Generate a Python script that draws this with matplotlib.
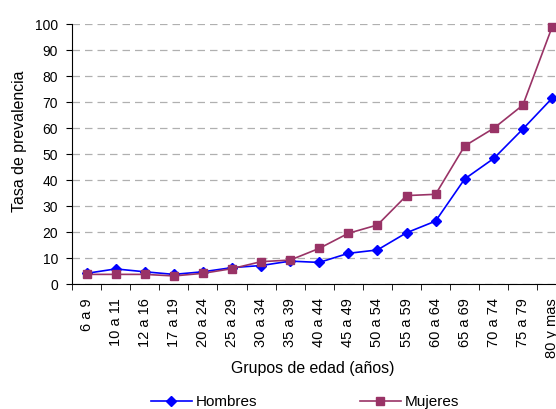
import matplotlib.pyplot as plt
import numpy as np

plt.rcParams['font.family'] = ['Liberation Sans', 'DejaVu Sans']
plt.rcParams['font.size'] = 10

grupos = ['6 a 9', '10 a 11', '12 a 16', '17 a 19', '20 a 24', '25 a 29',
          '30 a 34', '35 a 39', '40 a 44', '45 a 49', '50 a 54', '55 a 59',
          '60 a 64', '65 a 69', '70 a 74', '75 a 79', '80 y mas']
hombres = [4.1, 5.8, 4.7, 3.7, 4.7, 6.3, 7.1, 8.8, 8.3, 11.8, 13.1, 19.7,
           24.2, 40.4, 48.3, 59.6, 71.4]
mujeres = [3.7, 3.7, 3.7, 3.1, 4.1, 5.9, 8.6, 9.2, 13.7, 19.5, 22.7, 34.0,
           34.5, 53.1, 59.9, 68.8, 98.7]

fig = plt.figure(figsize=(5.56, 4.09), dpi=100)
# axes runs a little past the right edge, like the original
ax = fig.add_axes([72 / 556, 125 / 409, 494.5 / 556, 260 / 409])

x = np.arange(len(grupos))
ax.plot(x, hombres, color='#0000FF', marker='D', ms=5.5, lw=1.2,
        label='Hombres', clip_on=False, zorder=3)
ax.plot(x, mujeres, color='#993366', marker='s', ms=6, lw=1.2,
        label='Mujeres', clip_on=False, zorder=3)

ax.set_xlim(-0.5, len(grupos) - 0.5)
ax.set_ylim(0, 100)
ax.set_yticks(range(0, 101, 10))
ax.yaxis.grid(True, color='#b0b0b0', ls=(0, (6, 4)), lw=0.9)
ax.set_axisbelow(True)

ax.set_xticks(x)
ax.set_xticklabels(grupos, rotation=90, fontsize=10.5)
ax.set_xticks(np.arange(-0.5, len(grupos), 1), minor=True)
ax.tick_params(axis='x', which='major', length=0, pad=10)
ax.tick_params(axis='x', which='minor', length=4, direction='out', color='black')
ax.tick_params(axis='y', length=4, direction='out', pad=6)

for s in ['top', 'right']:
    ax.spines[s].set_visible(False)
ax.spines['left'].set_color('black')
ax.spines['bottom'].set_color('black')

fig.text(20 / 556, 1 - 141 / 409, 'Tasa de prevalencia', rotation=90,
         ha='center', va='center', fontsize=11.4)
fig.text(313 / 556, 1 - 368 / 409, 'Grupos de edad (años)', ha='center',
         va='center', fontsize=11.4)

fig.legend(loc='center', bbox_to_anchor=(305 / 556, 1 - 402 / 409), ncol=2,
           frameon=False, fontsize=11, handlelength=2.7, columnspacing=6.7,
           handletextpad=0.25, borderaxespad=0)

fig.savefig('out.png', dpi=100)
